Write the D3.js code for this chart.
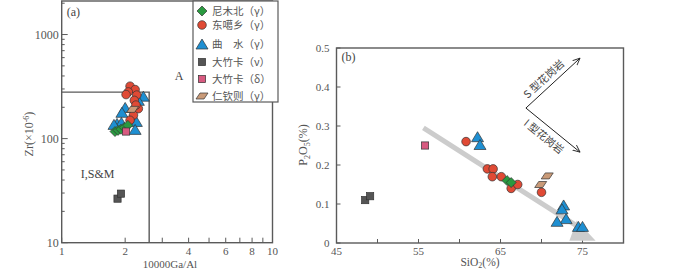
<!DOCTYPE html>
<html><head><meta charset="utf-8">
<script src="https://cdn.jsdelivr.net/npm/d3@7"></script>
<style>body{margin:0;background:#fff}svg{display:block}</style>
</head><body>
<svg id="c" width="700" height="271"></svg>
<script>
// ---------- Data panel (a): 10000Ga/Al vs Zr ----------
const seriesNames = ["尼木北（γ）","东噶乡（γ）","曲　水（γ）","大竹卡（ν）","大竹卡（δ）","仁钦则（γ）"];
const a_nimubei = [[1.79,117],[1.85,120],[1.91,123],[1.98,128],[2.06,134]];
const a_dongga = [[2.11,319],[2.23,296],[2.07,281],[2.02,265],[2.27,262],[2.21,233],[2.31,194],[2.19,168],[2.11,150],[2.25,210]];
const a_qushui = [[2.44,250],[2.31,228],[2.23,204],[2.0,195],[1.93,175],[1.83,137],[1.92,140],[2.26,143],[2.23,120],[1.77,134]];
const a_dazhuka_v = [[1.84,26.5],[1.91,29.6]];
const a_dazhuka_d = [[2.02,117]];
const a_renqinze = [[2.17,191]];
const a_boundary = [[1,280],[2.6,280],[2.6,10]];
const a_xTickLabels = [1,2,4,6,8,10];
const a_xTicks = [1,2,3,4,5,6,7,8,9,10];
const a_yTickLabels = [10,100,1000];

// ---------- Data panel (b): SiO2 vs P2O5 ----------
const b_nimubei = [[65.8,0.16],[66.3,0.155]];
const b_dongga = [[60.8,0.26],[63.4,0.19],[64.1,0.19],[64.0,0.17],[65.1,0.17],[66.3,0.14],[67.1,0.15],[70.0,0.13]];
const b_qushui = [[62.2,0.27],[62.5,0.25],[72.7,0.095],[72.5,0.085],[73.0,0.06],[71.9,0.053],[74.5,0.04],[75.0,0.04]];
const b_dazhuka_v = [[48.5,0.11],[49.1,0.12]];
const b_dazhuka_d = [[55.8,0.25]];
const b_renqinze = [[70.7,0.172],[69.9,0.15]];
const b_trend = [[55.6,0.295],[74.6,0.04]];
const b_trendHead = [[73.4,0.006],[76.6,0.006],[74.3,0.058]];
const b_vertex = [68.1,0.346];
const b_sEnd = [74.7,0.474];
const b_iEnd = [74.7,0.233];
const b_xTicks = [45,50,55,60,65,70,75,80];
const b_xTickLabels = [45,55,65,75];
const b_yTicks = [0,0.1,0.2,0.3,0.4,0.5];

const colors = {nimubei:"#2a9a40", dongga:"#e04a35", qushui:"#1e8fd2", dv:"#555555", dd:"#d85a80", rq:"#c99a78"};
const axisColor = "#5a5a5a", textColor = "#555";
const serif = "'Liberation Serif','Times New Roman',serif";
const cjk = "'Noto Sans CJK SC','Noto Sans',sans-serif";

const svg = d3.select("#c");

function marker(g, type, x, y, color){
  const s = "#333", sw = 0.7;
  if(type==="circle") g.append("circle").attr("cx",x).attr("cy",y).attr("r",4.3).attr("fill",color).attr("stroke",s).attr("stroke-width",sw);
  else if(type==="square") g.append("rect").attr("x",x-3.6).attr("y",y-3.6).attr("width",7.2).attr("height",7.2).attr("fill",color).attr("stroke",s).attr("stroke-width",sw);
  else if(type==="diamond") g.append("path").attr("d",`M${x},${y-5}L${x+5},${y}L${x},${y+5}L${x-5},${y}Z`).attr("fill",color).attr("stroke",s).attr("stroke-width",sw);
  else if(type==="triangle") g.append("path").attr("d",`M${x},${y-6}L${x+6},${y+4}L${x-6},${y+4}Z`).attr("fill",color).attr("stroke",s).attr("stroke-width",sw);
  else if(type==="para") g.append("path").attr("d",`M${x-6},${y+3}L${x+2},${y+3}L${x+6},${y-3}L${x-2},${y-3}Z`).attr("fill",color).attr("stroke",s).attr("stroke-width",sw);
}

// ================= Panel (a) =================
const ax = d3.scaleLog().domain([1,10]).range([61.7,272.5]);
const ay = d3.scaleLog().domain([10,2100]).range([242.7,1]);
const ga = svg.append("g");

ga.append("rect").attr("x",ax.range()[0]).attr("y",ay.range()[1]).attr("width",ax.range()[1]-ax.range()[0]).attr("height",ay.range()[0]-ay.range()[1])
  .attr("fill","none").attr("stroke",axisColor).attr("stroke-width",1.4);

a_xTicks.forEach(t=>{
  ga.append("line").attr("x1",ax(t)).attr("x2",ax(t)).attr("y1",ay(10)).attr("y2",ay(10)-5).attr("stroke",axisColor).attr("stroke-width",1);
});
a_xTickLabels.forEach(t=>{
  ga.append("text").attr("x",ax(t)).attr("y",254.5).attr("text-anchor","middle").attr("font-family",serif).attr("font-size",11).attr("fill",textColor).text(t);
});
const yMinor = [];
[10,100,1000].forEach(d=>{for(let k=2;k<=9;k++){ if(d*k<=2100) yMinor.push(d*k);} });
yMinor.forEach(t=>{
  ga.append("line").attr("x1",ax(1)).attr("x2",ax(1)+3).attr("y1",ay(t)).attr("y2",ay(t)).attr("stroke",axisColor).attr("stroke-width",1);
});
a_yTickLabels.forEach(t=>{
  ga.append("line").attr("x1",ax(1)).attr("x2",ax(1)+6).attr("y1",ay(t)).attr("y2",ay(t)).attr("stroke",axisColor).attr("stroke-width",1);
  ga.append("text").attr("x",ax(1)-3).attr("y",ay(t)+4).attr("text-anchor","end").attr("font-family",serif).attr("font-size",12).attr("fill",textColor).text(t);
});
ga.append("path").attr("d",d3.line().x(d=>ax(d[0])).y(d=>ay(d[1]))(a_boundary)).attr("fill","none").attr("stroke",axisColor).attr("stroke-width",1.4);

ga.append("text").attr("x",ax(1)+5).attr("y",16).attr("font-family",serif).attr("font-size",12).attr("fill","#444").text("(a)");
ga.append("text").attr("x",ax(3.6)).attr("y",80).attr("text-anchor","middle").attr("font-family",serif).attr("font-size",12).attr("fill","#444").text("A");
ga.append("text").attr("x",ax(1.48)).attr("y",178).attr("text-anchor","middle").attr("font-family",serif).attr("font-size",12).attr("fill","#444").text("I,S&M");
ga.append("text").attr("x",170).attr("y",267.5).attr("text-anchor","middle").attr("font-family",serif).attr("font-size",11).attr("fill",textColor).text("10000Ga/Al");
ga.append("text").attr("transform","translate(33,134) rotate(-90)").attr("text-anchor","middle").attr("font-family",serif).attr("font-size",12).attr("fill",textColor)
  .html('Zr(×10<tspan dy="-4" font-size="8">-6</tspan><tspan dy="4">)</tspan>');

const aSets = [
  [a_qushui,"triangle",colors.qushui],
  [a_dongga,"circle",colors.dongga],
  [a_nimubei,"diamond",colors.nimubei],
  [a_dazhuka_d,"square",colors.dd],
  [a_renqinze,"para",colors.rq],
  [a_dazhuka_v,"square",colors.dv]
];
const gap = ga.append("g");
aSets.forEach(([arr,type,col])=>arr.forEach(d=>marker(gap,type,ax(d[0]),ay(d[1]),col)));

// legend
const lg = ga.append("g");
lg.append("rect").attr("x",193).attr("y",ay.range()[1]).attr("width",278-193).attr("height",101).attr("fill","#fff").attr("stroke",axisColor).attr("stroke-width",1.2);
const legTypes = [["diamond",colors.nimubei],["circle",colors.dongga],["triangle",colors.qushui],["square",colors.dv],["square",colors.dd],["para",colors.rq]];
const legY = [11,25,44,62,79,96];
seriesNames.forEach((n,i)=>{
  marker(lg,legTypes[i][0],202,legY[i]+(legTypes[i][0]==="triangle"?1:0),legTypes[i][1]);
  lg.append("text").attr("x",212).attr("y",legY[i]+4).attr("font-family",cjk).attr("font-size",10.5).attr("fill",textColor).text(n);
});

// ================= Panel (b) =================
const bx = d3.scaleLinear().domain([45,80]).range([336.5,623.5]);
const by = d3.scaleLinear().domain([0,0.5]).range([243,48]);
const gb = svg.append("g");
gb.append("rect").attr("x",bx(45)).attr("y",by(0.5)).attr("width",bx(80)-bx(45)).attr("height",by(0)-by(0.5)).attr("fill","none").attr("stroke",axisColor).attr("stroke-width",1.4);
b_xTicks.forEach(t=>{
  gb.append("line").attr("x1",bx(t)).attr("x2",bx(t)).attr("y1",by(0)).attr("y2",by(0)-4).attr("stroke",axisColor).attr("stroke-width",1);
});
b_xTickLabels.forEach(t=>{
  gb.append("text").attr("x",bx(t)).attr("y",255).attr("text-anchor","middle").attr("font-family",serif).attr("font-size",11).attr("fill",textColor).text(t);
});
b_yTicks.forEach(t=>{
  gb.append("line").attr("x1",bx(45)).attr("x2",bx(45)+4).attr("y1",by(t)).attr("y2",by(t)).attr("stroke",axisColor).attr("stroke-width",1);
  gb.append("text").attr("x",bx(45)-7).attr("y",by(t)+4).attr("text-anchor","end").attr("font-family",serif).attr("font-size",11).attr("fill",textColor).text(t===0?"0":d3.format(".1f")(t));
});
gb.append("text").attr("x",bx(45)+5).attr("y",by(0.5)+13).attr("font-family",serif).attr("font-size",12).attr("fill","#444").text("(b)");
gb.append("text").attr("x",480).attr("y",266).attr("text-anchor","middle").attr("font-family",serif).attr("font-size",11.5).attr("fill",textColor)
  .html('SiO<tspan dy="2" font-size="8">2</tspan><tspan dy="-2">(%)</tspan>');
gb.append("text").attr("transform","translate(307,145) rotate(-90)").attr("text-anchor","middle").attr("font-family",serif).attr("font-size",12).attr("fill",textColor)
  .html('P<tspan dy="3" font-size="8">2</tspan><tspan dy="-3">O</tspan><tspan dy="3" font-size="8">5</tspan><tspan dy="-3">(%)</tspan>');

// trend
gb.append("path").attr("d",d3.line().x(d=>bx(d[0])).y(d=>by(d[1]))(b_trend)).attr("stroke","#cccccc").attr("stroke-width",5).attr("fill","none");
gb.append("path").attr("d",d3.line().x(d=>bx(d[0])).y(d=>by(d[1]))(b_trendHead)+"Z").attr("fill","#cccccc");

// S / I arrows
svg.append("defs").append("marker").attr("id","ah").attr("viewBox","0 -5 10 10").attr("refX",9).attr("refY",0)
  .attr("markerWidth",8).attr("markerHeight",8).attr("orient","auto").attr("markerUnits","userSpaceOnUse")
  .append("path").attr("d","M0,-4L9,0L0,4").attr("fill","none").attr("stroke","#222").attr("stroke-width",1.1);
[b_sEnd,b_iEnd].forEach(e=>{
  gb.append("line").attr("x1",bx(b_vertex[0])).attr("y1",by(b_vertex[1])).attr("x2",bx(e[0])).attr("y2",by(e[1]))
    .attr("stroke","#222").attr("stroke-width",1).attr("marker-end","url(#ah)");
});
function placeLabel(end, along, up, txt){
  const x0 = bx(b_vertex[0]), y0 = by(b_vertex[1]), x1 = bx(end[0]), y1 = by(end[1]);
  const th = Math.atan2(y1-y0, x1-x0);
  const ux = Math.cos(th), uy = Math.sin(th);
  const nx = Math.sin(th), ny = -Math.cos(th);
  const cx = (x0+x1)/2 + along*ux + up*nx, cy = (y0+y1)/2 + along*uy + up*ny;
  gb.append("text").attr("transform",`translate(${cx},${cy}) rotate(${th*180/Math.PI})`).attr("text-anchor","middle")
    .attr("dominant-baseline","central").attr("font-family",cjk).attr("font-size",10.5).attr("fill","#444").text(txt);
}
placeLabel(b_sEnd, -4, 10, "S 型花岗岩");
placeLabel(b_iEnd, -3, -10, "I 型花岗岩");

const bSets = [
  [b_dazhuka_v,"square",colors.dv],
  [b_dazhuka_d,"square",colors.dd],
  [b_renqinze,"para",colors.rq],
  [b_dongga,"circle",colors.dongga],
  [b_nimubei,"diamond",colors.nimubei],
  [b_qushui,"triangle",colors.qushui]
];
const gbp = gb.append("g");
bSets.forEach(([arr,type,col])=>arr.forEach(d=>marker(gbp,type,bx(d[0]),by(d[1]),col)));
</script>
</body></html>
